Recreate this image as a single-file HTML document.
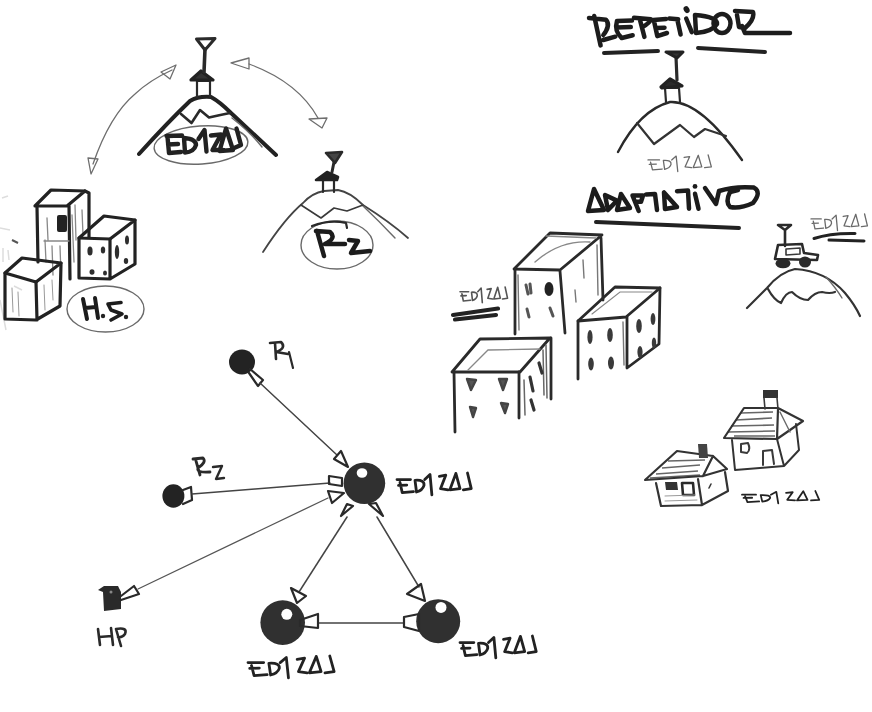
<!DOCTYPE html>
<html><head><meta charset="utf-8">
<style>
html,body{margin:0;padding:0;background:#fff;width:872px;height:712px;overflow:hidden}
svg{display:block;filter:blur(0.35px)}
.b{fill:none;stroke:#222;stroke-width:3.2;stroke-linecap:round;stroke-linejoin:round}
.m{fill:none;stroke:#2a2a2a;stroke-width:2.2;stroke-linecap:round;stroke-linejoin:round}
.n{fill:none;stroke:#3a3a3a;stroke-width:1.6;stroke-linecap:round;stroke-linejoin:round}
.t{fill:none;stroke:#6a6a6a;stroke-width:1.4;stroke-linecap:round;stroke-linejoin:round}
.h{fill:none;stroke:#999;stroke-width:1;stroke-linecap:round}
.L{fill:none;stroke:#1c1c1c;stroke-width:4.5;stroke-linecap:round;stroke-linejoin:round}
.ez path{vector-effect:non-scaling-stroke}
.ezb{fill:none;stroke:#1e1e1e;stroke-width:3.4;stroke-linecap:round;stroke-linejoin:round}
.ezm{fill:none;stroke:#222;stroke-width:2.8;stroke-linecap:round;stroke-linejoin:round}
.ezl{fill:none;stroke:#6a6a6a;stroke-width:1.3;stroke-linecap:round;stroke-linejoin:round}
</style></head><body>
<svg width="872" height="712" viewBox="0 0 872 712">
<defs>
  <g id="ez" class="ez">
    <path d="M0,9 L18,9 M4,13 L7,27 L22,25.5 M2,17 L13,16.5"/>
    <path d="M24,10 L26,26 M24,10 Q37,9 36,17 Q34,24 26,26"/>
    <path d="M37,9 L44,2 L46.5,30"/>
    <path d="M56.5,4.5 L65,3 L58,21.5 L68,23"/>
    <path d="M78.5,0.5 L70.5,23 L84,21.5 Z"/>
    <path d="M94,0 L99,21.5 L88.5,23"/>
  </g>
</defs>

<!-- ===== Top-left mountain EDIZAJ ===== -->
<g id="m1">
  <path class="b" style="stroke-width:4" d="M139,154 Q168,122 190,101 Q198,96 211,97 Q220,102 231,113 L276,155"/>
  <path class="t" d="M232,118 Q250,132 262,147"/>
  <path class="m" style="stroke-width:2.6" d="M181,114 L191.5,123 L200,110 L209,117.5 Q220,115 230,113"/>
  <path class="m" d="M197,97 L197,81 L210,81 L210,97"/>
  <path class="b" style="fill:#333" d="M191,80 L201,71 L213,80 Z"/>
  <path class="m" style="stroke-width:3.6" d="M205,49 L204,72"/>
  <path class="m" style="stroke-width:3" d="M196.5,39 L215,38.5 L205,50 Z"/>
  <ellipse class="t" cx="201" cy="145" rx="47" ry="19" transform="rotate(-4 201 145)"/>
  <path class="L" style="stroke-width:4.4;stroke:#222" d="M166.5,136 L182,135.5 M167.5,137 L169,153 L181,152 M168,144.5 L178,144 M184,138 L185,152.5 M184,138 Q196,139 196,145 Q194,152 185,152.5 M198.5,139 L204.5,130 L206.5,151.5 M211,135.5 L221,134.5 L212.5,150 L223,150 M226,128.5 L219.5,151 L233,150 Z M236.5,128.5 L241,145 L233,148.5"/>
  <!-- arrows -->
  <path class="t" style="stroke:#6e6e6e;stroke-width:1.3" d="M93,164 Q110,115 135,94 Q150,80 172,70"/>
  <path class="t" style="stroke:#6e6e6e;stroke-width:1.3" d="M161,72 L176,65 L170,79 Z"/>
  <path class="t" style="stroke:#6e6e6e;stroke-width:1.3" d="M88,158 L98,159 L91,174 Z"/>
  <path class="t" style="stroke:#6e6e6e;stroke-width:1.3" d="M249,64 Q298,82 318,118"/>
  <path class="t" style="stroke:#6e6e6e;stroke-width:1.3" d="M231,63 L249,58 L249,69 Z"/>
  <path class="t" style="stroke:#6e6e6e;stroke-width:1.3" d="M309,119 L327,118 L322,128 Z"/>
</g>

<!-- ===== R2 mountain ===== -->
<g id="m2">
  <path class="n" style="stroke:#444;stroke-width:1.8" d="M263,252 Q285,218 303,203 Q312,193 324,191 L338,190 Q350,192 363,205 Q390,222 408,238"/>
  <path class="t" d="M362,205 Q380,222 395,238"/>
  <path class="n" d="M301,205 L321,218 L334,208 L347,211 L363,205"/>
  <path class="m" d="M323,192 L323,179 L334,179 L334,192"/>
  <path class="b" style="stroke-width:2.6;fill:#222" d="M316,180 L327,172 L338,177 L337,180 Z"/>
  <path class="m" style="stroke-width:3" d="M334,162 L332,172"/>
  <path class="m" style="stroke-width:2.6;fill:#444" d="M326,153 L342,152 L335,163 Z"/>
  <ellipse class="t" cx="337" cy="245" rx="36" ry="24"/>
  <path class="m" d="M312,226 Q330,219 346,223 L347,228"/>
  <path class="L" d="M317,231 L324,256 M316,231 L330,232 Q337,238 325,244 L345,244"/>
  <path class="L" d="M349,240 L358,241 L351,253 L370,251"/>
</g>

<!-- smudges -->
<path d="M2,198 L8,196 M0,228 L10,230 M3,248 L3,262 M8,250 L9,260 M0,300 L6,330 M14,286 L22,290" stroke="#ddd" stroke-width="1.5" fill="none"/>
<path d="M12,240 L18,243" stroke="#555" stroke-width="2" fill="none"/>
<!-- ===== H.S. buildings ===== -->
<g id="hs">
  <!-- tall -->
  <path class="b" d="M35,206 L51,190 L85,191 L67,206 Z"/>
  <path class="b" d="M37,207 L38,262 M69,206 L70,279 M85,191 L89,193 L89,237"/>
  <rect x="57" y="215" width="10" height="17" fill="#222" rx="2"/>
  <path class="h" style="stroke:#888;stroke-width:1.3" d="M47,218 L48,240 M52,246 L53,275 M60,246 L61,275 M75,205 L76,240 M82,210 L83,235 M45,240 L46,262 M44,241 L69,241 M72,215 L74,262"/>
  <!-- right -->
  <path class="b" d="M79,238 L104,216 L135,220 L110,239 Z"/>
  <path class="b" d="M79,238 L79,278 L110,279 L135,264 L135,220 M110,239 L110,279"/>
  <g fill="#2e2e2e"><ellipse cx="90" cy="251" rx="2.6" ry="4.5"/><ellipse cx="103" cy="250" rx="2.2" ry="3.5"/><ellipse cx="92" cy="272" rx="2.5" ry="2.8"/><ellipse cx="105" cy="273" rx="2" ry="2.5"/><ellipse cx="117" cy="252" rx="2.2" ry="7"/><ellipse cx="127" cy="240" rx="2" ry="4.5"/><ellipse cx="126" cy="261" rx="2.2" ry="3"/></g>
  <!-- small -->
  <path class="b" d="M5,273 L22,258 L61,263 L36,282 Z"/>
  <path class="b" d="M5,273 L5,319 L36,320 L60,306 L61,263 M36,282 L37,320"/>
  <path class="h" d="M12,288 L13,312 M18,292 L19,316 M44,285 L45,310 M52,280 L53,300"/>
  <ellipse class="t" cx="105.5" cy="309" rx="38.5" ry="23"/>
  <path class="L" style="stroke-width:4" d="M83,299 L87,319 M95,298 L98,318 M85,308 L96,307"/>
  <circle cx="103" cy="316" r="2.2" fill="#222"/>
  <path class="L" style="stroke-width:3.6" d="M121,302.5 L108,304 L111,310 L122,314 L111,320"/>
  <circle cx="126" cy="317" r="2.2" fill="#222"/>
</g>

<!-- ===== Graph ===== -->
<g id="graph">
  <ellipse cx="242" cy="362" rx="13" ry="12.4" fill="#232323"/>
  <path class="n" style="stroke-width:2.2;stroke:#2a2a2a" d="M250,369 L263,380 L258,386 L249,373"/>
  <ellipse cx="173.4" cy="496" rx="11" ry="11.7" fill="#232323"/>
  <path class="n" style="stroke-width:2.2;stroke:#2a2a2a" d="M183,490 L191,487 L192,500 L183,504"/>
  <circle cx="364.4" cy="483.3" r="20.8" fill="#303030"/>
  <ellipse cx="362" cy="473" rx="5.3" ry="4.8" fill="#fff"/>
  <circle cx="282.7" cy="622.6" r="22.3" fill="#303030"/>
  <circle cx="286.8" cy="614.3" r="5.5" fill="#fff"/>
  <circle cx="438.2" cy="621.2" r="22" fill="#303030"/>
  <circle cx="441" cy="607.4" r="5.5" fill="#fff"/>
  <path d="M98,590 L104,586 L118,586 L121,592 L121,609 L104,611 L103,592 Z" fill="#2a2a2a"/><circle cx="111" cy="592" r="1.5" fill="#888"/>
  <path class="n" style="stroke-width:2.2;stroke:#2a2a2a" d="M121,596 L134,586 L139,594 L121,600"/>
  <!-- lines -->
  <path class="t" d="M260,383 L337,455" style="stroke:#444;stroke-width:1.5"/>
  <path class="t" d="M192,494 L330,483" style="stroke:#444;stroke-width:1.5"/>
  <path class="t" style="stroke:#555;stroke-width:1.3" d="M138,589 L328,498"/>
  <path class="t" d="M347,517 L299,592" style="stroke:#444;stroke-width:1.5"/>
  <path class="t" d="M377,517 L419,587" style="stroke:#444;stroke-width:1.5"/>
  <path class="t" d="M318,623 L404,623" style="stroke:#444;stroke-width:1.5"/>
  <!-- cones central -->
  <path class="n" style="stroke-width:2.2;stroke:#2a2a2a" d="M334,459 L341,451 L348,467 Z"/>
  <path class="n" style="stroke-width:2.2;stroke:#2a2a2a" d="M329,476 L342,478 L342,486 L329,484 Z"/>
  <path class="n" style="stroke-width:2.2;stroke:#2a2a2a" d="M328,491 L344,493 L332,503 Z"/>
  <path class="n" style="stroke-width:2.2;stroke:#2a2a2a" d="M347,504 L353,506 L341,516 Z"/>
  <path class="n" style="stroke-width:2.2;stroke:#2a2a2a" d="M369,504 L376,503 L383,516 Z"/>
  <!-- cones bottom -->
  <path class="n" style="stroke-width:2.2;stroke:#2a2a2a" d="M300,620 L318,614 L318,628 L300,626 Z"/>
  <path class="n" style="stroke-width:2.2;stroke:#2a2a2a" d="M291,588 L306,596 L297,603 Z"/>
  <path class="n" style="stroke-width:2.2;stroke:#2a2a2a" d="M404,617 L419,614 L419,631 L404,627 Z"/>
  <path class="n" style="stroke-width:2.2;stroke:#2a2a2a" d="M407,594 L421,584 L425,601 Z"/>
  <!-- labels -->
  <use href="#ez" class="ezm" transform="translate(397,473) scale(0.75,0.73)"/>
  <use href="#ez" class="ezm" transform="translate(248,656) scale(0.87,0.73)"/>
  <use href="#ez" class="ezm" transform="translate(460,636) scale(0.77,0.73)"/>
  <path class="m" style="stroke-width:2.6" d="M98,629 L100,645 M111,628 L113,645 M99,637 L112,636 M116,629 L121,646 M116,629 Q128,627 125,634 Q122,638 118,637"/>
  <path class="m" style="stroke-width:2.6" d="M270,343 L281,342 Q287,348 276,352 L288,354 M275,343 L276,359"/>
  <path class="m" d="M289,352 L293,368"/>
  <path class="m" style="stroke-width:2.8" d="M193,459 L203,458 Q207,462 198,468 Q196,473 210,472 M196,461 L200,475"/>
  <path class="m" style="stroke-width:2.4" d="M213,467 L222,466 L216,479 L224,478"/>
</g>

<!-- ===== Right side: REPETIDOR ===== -->
<g id="rep">
  <path class="L" d="M589,18 L606,19.7 Q611,25 603.3,35 M594.2,16 L600.6,45.4 M603.3,40 L615.3,36.7"/>
  <path class="L" d="M617,21 L632,20.6 M617,21 Q614,31 621.7,38 L632.7,35.3 M617,27.5 L630.8,27"/>
  <path class="L" d="M634,17.7 L650.9,19.3 Q650,23 642,27.3 M639.6,18.5 L644.4,36.9"/>
  <path class="L" d="M653.3,20 L666,18.9 M654,20.9 L657.3,36.1 L667,33 M655.7,28 L664.5,27.7"/>
  <path class="L" d="M669.3,18.5 L678.2,19.3 M677.4,20 L680.6,34.5"/>
  <ellipse cx="686.6" cy="9.6" rx="2.8" ry="3.6" fill="#1c1c1c" transform="rotate(-30 686.6 9.6)"/>
  <path class="L" d="M686.2,18.5 L691.8,32.1"/>
  <path class="L" d="M695,15 L696,33 M695,15 Q718,17 717,24 Q712,32 696,33"/>
  <ellipse class="L" cx="722" cy="23.5" rx="8.5" ry="9.5"/>
  <path class="L" d="M735,11 L753,12 Q755,19 745,28 L739,27 L737,15 M742,26 L745,33 L790,33"/>
  <path class="b" style="stroke-width:4" d="M604,53 L658,51 M698,48 L765,52"/>
  <path class="n" style="stroke-width:2.4;stroke:#2a2a2a" d="M618,152 Q640,110 670,102 Q700,100 742,160"/>
  <path class="n" style="stroke-width:2.2;stroke:#333" d="M637,123 L654,144 L680,125 L694,137 L705,129 L726,136"/>
  <path class="m" d="M666,102 L665,88 L679,88 L680,102"/>
  <path class="b" style="fill:#2a2a2a" d="M661,87 L670,79 L682,86 L662,88 Z"/>
  <path class="m" style="stroke-width:3.2" d="M676,57 L677,80"/>
  <path class="b" style="stroke-width:3;fill:#333" d="M666,52 L683,52 L677,58 Z"/>
  <use href="#ez" class="ezl" transform="translate(648,155) scale(0.64,0.55)"/>

  <!-- ADAPTATIVO -->
  <path class="L" d="M594,189 L588,211 L604,210 Z"/>
  <path class="L" d="M605,195 L617,200.6 L608,210 Z"/>
  <path class="L" d="M621,194 L617,210 L630,208 Z"/>
  <path class="L" d="M632.5,195.5 L638.7,211 M632.5,195.5 L643,195.5 L641,201.7 L635.6,201.7"/>
  <path class="L" d="M646,194.4 L655,194 L657,210"/>
  <path class="L" d="M664,192.4 L665,209 L677,207 Z"/>
  <path class="L" d="M677,191.2 L688,190.6 L689,208.7"/>
  <circle cx="695" cy="186.4" r="2.4" fill="#1c1c1c"/>
  <path class="L" d="M695,193.7 L698.5,208.7"/>
  <path class="L" d="M705,188 L716,204 L719,191 Q735,186 754,187.6 Q762,192 753,203 Q740,209 730,207 Q725,202 730,192 L738,190"/>
  <path class="b" style="stroke-width:4" d="M596,222 L739,228"/>

  <!-- hill with car -->
  <path class="n" style="stroke-width:2.2;stroke:#333" d="M747,308 L767,288 Q780,272 795,269 Q826,271 845,293 Q855,305 860,316"/>
  <path class="t" d="M826,277 Q836,288 842,298"/>
  <path class="n" style="stroke-width:2.2;stroke:#333" d="M768,289 Q774,300 781,303 Q786,292 792,292 Q800,300 808,300 Q815,292 822,292 Q830,294 835,292"/>
  <path class="m" style="stroke-width:2.6" d="M778,245 L802,244 L804,253 L818,255 L817,260 L775,259 Z"/>
  <path class="n" d="M786,249 L800,248 L800,254 L786,255 Z"/>
  <ellipse cx="783" cy="263.5" rx="7.5" ry="4.8" fill="#2a2a2a"/>
  <ellipse cx="805" cy="262" rx="6" ry="5.5" fill="#2a2a2a"/>
  <path class="m" style="stroke-width:2.6" d="M778,225 L791,225 L785,230 Z M785,230 L785,246"/>
  <use href="#ez" class="ezl" transform="translate(811,214) scale(0.57,0.55)"/>
  <path class="b" style="stroke-width:3" d="M814,238.5 Q830,233 855,233.5 M829,240 L864,241"/>
</g>

<!-- ===== buildings right ===== -->
<g id="br">
  <!-- tall -->
  <path class="b" style="stroke-width:2.8;stroke:#2a2a2a" d="M514,269 L550,233 L602,235 L560,270 Z"/>
  <path class="h" style="stroke:#888;stroke-width:1.4" d="M535,262 Q560,240 590,242 M546,236 L596,238"/>
  <path class="b" style="stroke-width:2.8;stroke:#2a2a2a" d="M515,269 L515,334 M560,271 L565,333 M601,238 L603,300"/>
  <path class="h" style="stroke:#777;stroke-width:1.4" d="M597,245 L598,295 M583,260 L584,278 M575,290 L576,302 M518,275 L519,330"/>
  <ellipse cx="549" cy="289" rx="4.5" ry="7" fill="#222"/>
  <path d="M526,285 L528,294 M530,284 L531,293 M527,309 L529,317 M550,308 L553,316" stroke="#555" stroke-width="3" stroke-linecap="round" fill="none"/>
  <!-- right -->
  <path class="b" style="stroke-width:2.8;stroke:#2a2a2a" d="M578,321 L615,287 L660,288 L626,317 Z"/>
  <path class="h" style="stroke:#888;stroke-width:1.2" d="M592,314 L620,292 L652,292"/>
  <path class="b" style="stroke-width:2.8;stroke:#2a2a2a" d="M578,321 L578,379 M627,317 L627,368 L659,344 L660,288"/>
  <path class="h" style="stroke:#777;stroke-width:1.4" d="M623,322 L624,365"/>
  <g fill="#3a3a3a">
    <ellipse cx="590" cy="337" rx="2.6" ry="7"/>
    <ellipse cx="610" cy="335" rx="2.8" ry="7"/>
    <ellipse cx="591" cy="364" rx="2.8" ry="6.5"/>
    <ellipse cx="611" cy="363" rx="3" ry="6.5"/>
    <ellipse cx="639" cy="326" rx="2.8" ry="7"/>
    <ellipse cx="653" cy="319" rx="2.4" ry="6"/>
    <ellipse cx="640" cy="352" rx="2.6" ry="6"/>
    <ellipse cx="654" cy="343" rx="2.2" ry="5.5"/>
  </g>
  <!-- bottom-left -->
  <path class="b" style="stroke-width:2.8;stroke:#2a2a2a" d="M452,372 L480,339 L550,338 L520,372 Z"/>
  <path class="h" style="stroke:#888;stroke-width:1.3" d="M468,370 L488,350 L540,349"/>
  <path class="b" style="stroke-width:2.8;stroke:#2a2a2a" d="M454,372 L455,432 M519,372 L519,418 M551,338 L551,399"/>
  <path class="h" style="stroke:#666;stroke-width:1.5" d="M546,345 L547,398 M543,350 L544,395 M524,380 L525,415"/>
  <path d="M467,379 L476,380 L471,390 Z M499,379 L507,379 L503,390 Z M470,407 L476,408 L473,417 Z M501,403 L508,404 L505,413 Z" stroke="#444" stroke-width="2.4" stroke-linejoin="round" fill="#555"/>
  <path d="M530,377 L533,391 M531,400 L534,410 M539,363 L542,373" stroke="#333" stroke-width="3.2" stroke-linecap="round" fill="none"/>
  <use href="#ez" class="ezl" style="stroke:#555;stroke-width:1.6" transform="translate(460,287) scale(0.48,0.52)"/>
  <path d="M453,315 L498,308.5 M455,319.5 L496,315" stroke="#222" stroke-width="4.2" stroke-linecap="round" fill="none"/>
</g>

<!-- ===== houses ===== -->
<g id="houses">
  <!-- big -->
  <path d="M736,420 L772,418 M731,426 L774,425 M741,413 L773,412 M728,432 L775,431 M734,436 L775,436" stroke="#666" stroke-width="1.6" fill="none"/>
  <path class="n" style="stroke-width:2.2;stroke:#333" d="M724,438 L744,408 L778,408 L803,421 L777,439 Z M778,409 L777,439"/>
  <path class="n" style="stroke-width:2;stroke:#333" d="M732,440 L735,470 L784,466 L777,439 M784,466 L799,450 L796,424"/>
  <path class="t" d="M780,412 L790,432"/>
  <path d="M763,390 L778,390 L778,398 L763,398 Z" fill="#333"/>
  <path class="n" d="M764,398 L765,409 M777,398 L778,409"/>
  <path class="n" style="stroke-width:2" d="M741,444 L748,443 Q751,450 747,453 L741,452 Z M763,465 L763,451 L772,450 L774,464"/>
  <!-- small -->
  <path d="M662,468 L700,465 M656,474 L698,471 M668,461 L705,460 M650,478 L700,475" stroke="#666" stroke-width="1.6" fill="none"/>
  <path class="n" style="stroke-width:2.2;stroke:#333" d="M645,480 L677,451 L713,456 L727,469 L703,476 Z M713,456 L703,476"/>
  <path class="n" style="stroke-width:2.2;stroke:#333" d="M656,483 L661,506 L702,505 L698,479 M702,505 L728,491 L725,472"/>
  <path d="M698,444 L707,444 L708,458 L699,458 Z" fill="#444"/>
  <path d="M665,482 L677,482 L678,490 L666,490 Z" fill="#333"/>
  <path class="m" style="stroke-width:2.6" d="M682,483 L693,483 L694,495 L683,495 Z"/>
  <path class="h" d="M665,496 L695,495 M665,501 L697,500"/>
  <path class="n" d="M709,488 L711,484"/>
  <use href="#ez" class="ezm" style="stroke-width:1.8" transform="translate(742,491) scale(0.78,0.41)"/>
</g>

</svg>
</body></html>
